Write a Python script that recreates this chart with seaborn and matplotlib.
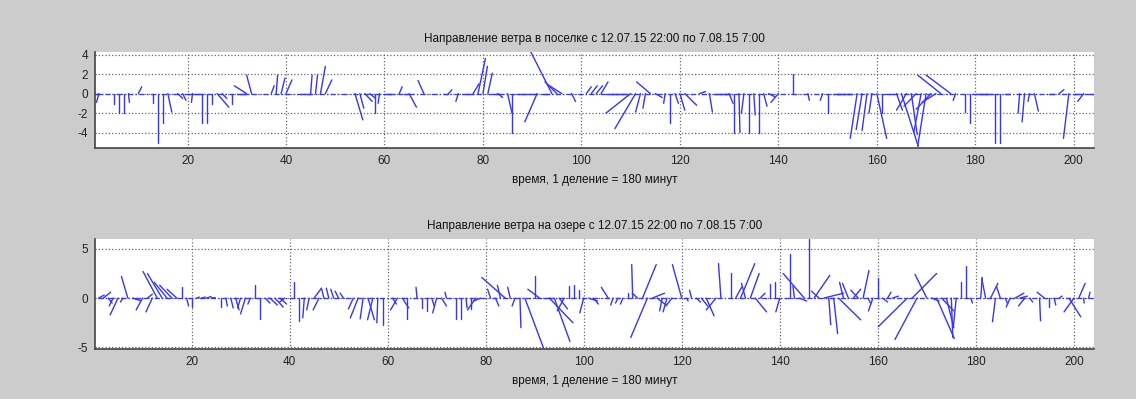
import matplotlib
import matplotlib.pyplot as plt
import numpy as np
import pandas as pd
import seaborn as sns

matplotlib.use("Agg")

N_STEPS = 204
X_TICKS = [20, 40, 60, 80, 100, 120, 140, 160, 180, 200]

# village (upper panel): vector index, east component, north component
VILLAGE_IDX = [1, 2, 5, 6, 7, 8, 10, 13, 14, 15, 16, 18, 19, 20, 21, 22, 23, 24, 25, 26,
               27, 29, 30, 32, 33, 37, 38, 39, 40, 43, 45, 46, 47, 48, 54, 55, 56, 57, 58, 59,
               60, 61, 63, 64, 65, 68, 72, 73, 75, 76, 78, 79, 80, 81, 82, 83, 85, 86, 87, 89,
               91, 92, 94, 95, 96, 98, 101, 102, 103, 104, 105, 106, 107, 108, 110, 111, 112, 113, 114, 115,
               117, 118, 119, 120, 121, 124, 126, 127, 128, 129, 130, 131, 132, 133, 134, 135, 136, 137, 138, 140,
               143, 146, 149, 150, 151, 152, 153, 154, 156, 157, 158, 159, 160, 161, 162, 164, 165, 166, 167, 168,
               169, 170, 171, 172, 173, 175, 176, 178, 179, 180, 181, 182, 184, 185, 186, 189, 190, 191, 192, 195,
               197, 199, 200, 202, 203]
VILLAGE_U = [1.4, -0.5, 0.0, 0.0, 0.0, 0.2, 0.7, 0.0, 0.0, 0.0, 0.8, 1.0, 0.7, 1.8, -0.2, 1.2, 0.0, 0.0, 0.0, 2.4,
             1.0, 0.0, 2.0, -2.5, -1.0, 0.6, 0.3, 0.8, 1.2, 2.0, 0.3, 0.4, 1.0, 1.3, 1.6, 0.8, 1.5, 1.2, 0.0, -0.3,
             1.2, 1.0, 0.6, 1.0, 1.5, -1.2, 1.0, 0.7, -0.5, 2.0, 1.2, 1.5, 0.9, 0.9, 1.6, 1.0, 0.9, 0.0, 1.8, 2.0,
             -2.5, 1.5, -4.3, -2.4, -2.8, 0.8, 1.0, 1.2, 1.3, 1.4, 1.5, 1.5, 1.5, 1.5, -5.0, -4.2, -1.0, -0.5, -2.8, 1.4,
             -0.3, 0.0, 0.7, 1.0, 2.4, 1.2, 0.6, 1.5, 1.5, 1.2, 0.8, 0.0, 0.2, -0.5, 0.0, 0.3, 0.0, 0.7, 1.2, -1.5,
             0.0, 0.3, -0.5, 0.0, 1.5, 1.5, 1.5, 1.0, -1.4, -1.2, -1.0, -0.6, 2.0, 0.0, 1.5, 1.2, 3.4, -2.0, 1.2, -2.5,
             -1.5, -1.7, -3.0, -2.8, -4.7, -5.0, -0.5, 0.0, 0.0, 1.5, 1.5, 1.5, 0.0, 0.0, 1.0, -0.3, -0.5, -0.3, 0.8, 1.0,
             1.0, -1.1, 1.5, -1.2, 1.5]
VILLAGE_V = [0.0, -0.9, -1.1, -2.0, -2.0, -0.9, 0.7, -1.0, -5.1, -3.0, -1.9, -0.5, -0.7, 0.0, -0.9, 0.0, -3.0, -3.0, -1.1, -1.4,
             -0.5, -1.1, 0.0, 0.8, 1.9, 0.8, 1.9, 1.6, 1.4, 0.0, 1.9, 1.9, 2.8, 1.4, -2.7, -1.5, -0.8, -0.5, -2.0, -1.0,
             0.0, 0.0, 0.7, 0.0, -1.4, 1.35, 0.0, 0.4, -0.8, 0.0, 1.0, 3.6, 2.8, 2.1, 0.0, -0.4, -2.0, -4.0, 0.0, 0.0,
             -2.9, 0.0, 4.3, 1.2, 0.9, -0.8, 0.7, 0.8, 0.8, 1.2, 0.0, 0.0, 0.0, 0.0, -2.0, -3.6, -1.9, -1.5, 1.2, -0.4,
             -1.0, -3.0, -1.0, -1.7, -1.2, 0.2, -1.9, 0.0, 0.0, 0.0, -1.0, -4.0, -4.0, -2.0, -4.0, -2.2, -4.0, -1.3, -0.3, -0.9,
             2.0, -0.7, -0.7, -2.0, 0.0, 0.0, 0.0, 0.0, -4.6, -3.7, -3.8, -2.0, -4.6, -2.0, 0.0, -1.7, -5.4, -1.7, -4.2, -1.3,
             -4.0, -5.4, -1.6, -0.9, 1.9, 1.9, -0.7, -1.9, -3.0, 0.0, 0.0, 0.0, -5.1, -5.1, 0.0, -2.0, -2.9, -0.8, -1.8, 0.0,
             0.4, -4.6, 0.0, -0.8, 0.0]

# lake (lower panel)
LAKE_IDX = [1, 2, 3, 4, 5, 6, 7, 8, 9, 10, 11, 12, 13, 14, 15, 16, 17, 18, 19, 20,
            21, 22, 23, 24, 26, 27, 28, 29, 30, 31, 32, 33, 34, 35, 36, 37, 38, 39, 41, 42,
            43, 44, 45, 46, 47, 48, 49, 50, 51, 53, 54, 55, 56, 57, 58, 59, 61, 62, 63, 64,
            66, 67, 68, 69, 70, 71, 72, 74, 75, 76, 77, 78, 79, 81, 82, 83, 84, 85, 86, 87,
            88, 90, 91, 92, 93, 94, 95, 96, 97, 98, 99, 100, 101, 102, 105, 106, 107, 108, 109, 110,
            111, 112, 113, 114, 115, 116, 117, 118, 120, 121, 122, 123, 124, 125, 127, 128, 130, 131, 132, 133,
            134, 135, 136, 138, 139, 140, 142, 143, 144, 145, 146, 147, 148, 149, 150, 151, 152, 153, 154, 155,
            156, 157, 158, 159, 160, 161, 162, 163, 166, 167, 168, 170, 171, 172, 173, 174, 175, 176, 177, 178,
            179, 181, 182, 183, 184, 185, 186, 187, 188, 189, 190, 191, 193, 194, 195, 196, 197, 199, 200, 201,
            202, 203]
LAKE_U = [1.2, 1.5, 0.8, -0.8, -1.6, -0.5, -1.3, 1.2, 0.6, -1.3, 1.0, -1.3, -2.9, -3.0, -2.6, -2.5, -2.0, 0.0, 0.4, 0.0,
          0.6, 0.8, 1.0, 0.8, 0.0, 0.3, 0.5, 0.7, -0.6, -1.0, -0.5, 0.0, 0.0, 1.0, 1.5, 1.7, 1.4, -1.0, 0.0, 0.0,
          -0.3, -0.5, 1.5, -1.2, -0.5, -0.5, -0.6, -0.7, -0.7, -1.0, -1.6, -0.6, 1.3, -1.1, -0.2, 0.0, 0.8, -1.4, 1.3, 0.0,
          -0.2, 0.0, 0.0, 0.5, -0.8, 1.0, -0.3, 0.0, 0.0, 0.2, 0.0, -1.7, -1.5, -0.6, 0.7, -0.6, -4.8, -0.5, -0.6, 0.2,
          3.9, 0.0, -2.4, 1.5, 4.8, 3.2, 1.7, -1.4, 0.0, 0.0, 0.0, -0.8, 1.8, 1.0, -1.4, -0.5, -0.5, -0.5, 0.0, -0.2,
          -1.1, 2.8, -3.4, 2.5, 1.8, -0.5, -0.8, -1.2, -1.9, 0.3, -0.4, 0.8, 1.3, 1.6, -2.0, -0.5, 0.0, 1.2, 2.9, -0.8,
          1.8, 2.3, 1.0, 0.0, 0.0, -0.8, 0.0, -0.3, 1.5, -4.3, 0.0, 3.2, -1.5, 4.0, 0.4, 0.8, 4.5, -0.8, -1.2, 1.5,
          -1.5, 1.2, 0.5, -0.9, 0.0, 1.0, 0.7, 1.2, -5.9, 5.0, -4.5, -2.4, 1.5, 3.6, 2.5, 1.5, 0.3, -0.6, 0.0, 0.0,
          0.3, 0.3, -0.8, 1.5, -0.6, -0.8, 0.5, -0.8, 1.8, 1.5, -1.3, 0.6, 0.2, -1.5, 0.0, 0.3, 0.6, 2.4, -2.0, 1.3,
          0.1, 0.3]
LAKE_V = [0.3, 0.6, -0.5, -0.8, -1.7, -0.4, 2.2, -0.2, -0.3, -1.2, 0.4, -1.4, 2.7, 2.5, 1.6, 1.3, 0.9, 1.1, -0.8, -0.9,
          0.1, 0.1, 0.15, 0.05, -0.9, -0.8, -1.0, -1.2, -1.0, -1.6, -0.6, 1.3, -2.1, -0.5, -0.7, -0.9, -0.6, -0.4, 1.6, -2.3,
          -2.0, -1.2, 1.0, -1.2, 1.0, 1.0, 0.9, 0.7, 0.5, -1.1, -2.0, -2.1, -2.2, -2.2, -2.5, -2.7, -0.6, -1.2, -1.0, -2.1,
          1.1, -1.0, -1.3, -0.8, -1.5, -0.8, 0.6, -2.1, -2.1, -1.0, -1.1, -1.2, -0.3, 0.9, -0.8, 1.3, 2.1, 1.1, -0.8, -3.0,
          -5.2, 2.2, 0.9, 0.0, -2.5, -4.4, -1.1, -1.3, 1.2, 1.3, 0.8, -1.5, -0.3, -0.6, 1.1, -0.7, -0.5, -0.6, 0.5, 3.4,
          0.5, 3.4, -4.0, 0.5, -0.7, -1.3, -1.4, -0.8, 3.4, -0.3, 0.8, -0.4, -0.8, -1.8, -1.2, 3.5, 2.5, 1.1, 3.5, 1.5,
          2.5, -1.4, 0.5, 1.4, 1.6, -1.4, 4.5, 1.2, -0.3, 2.5, 6.0, 2.3, 0.7, 0.5, -2.7, -3.6, -2.2, 1.6, 1.5, 0.9,
          0.8, 2.8, -0.5, -1.3, 2.0, -0.4, 0.6, 0.2, -2.9, 2.5, -4.2, 2.4, -0.3, -4.1, -1.3, -3.0, -4.0, -3.0, 1.6, 3.3,
          -0.5, 2.1, 2.0, 1.5, -2.4, 1.2, -0.6, -0.9, 0.5, 0.2, -0.8, -0.4, -2.3, 0.6, -0.9, -0.7, 0.2, -1.9, -1.4, 1.5,
          -0.5, 0.6]

TITLES = [
    "Направление ветра в поселке с 12.07.15 22:00 по 7.08.15 7:00",
    "Направление ветра на озере с 12.07.15 22:00 по 7.08.15 7:00",
]
XLABEL = "время, 1 деление = 180 минут"

LINE_BLUE = "#3535ff"
FIG_GRAY = "#cccccc"


def feather_frame(idx, u, v):
    # each vector starts on the zero line at its index and ends at (i+u, v)
    rows = []
    for i, du, dv in zip(idx, u, v):
        rows.append({"vec": i, "x": float(i), "y": 0.0})
        rows.append({"vec": i, "x": i + du, "y": dv})
    return pd.DataFrame(rows)


def draw_feather(ax, df, title, xlim, ylim, yticks):
    ax.set_facecolor("white")
    ax.plot([1, N_STEPS], [0, 0], linestyle=(0, (4, 2, 1, 2)), color=LINE_BLUE, lw=0.9, zorder=1)
    sns.lineplot(
        data=df, x="x", y="y", units="vec", estimator=None, sort=False,
        color=LINE_BLUE, lw=1.0, ax=ax, legend=False, zorder=3,
    )
    ax.set_xlim(*xlim)
    ax.set_ylim(*ylim)
    ax.set_xticks(X_TICKS)
    ax.set_yticks(yticks)
    ax.grid(True, linestyle=":", color="#666666", lw=0.9)
    ax.set_axisbelow(True)
    for side in ("top", "right"):
        ax.spines[side].set_visible(False)
    for side in ("left", "bottom"):
        ax.spines[side].set_color("#444444")
        ax.spines[side].set_linewidth(1.2)
    ax.tick_params(direction="in", length=5, width=1.2, color="#444444",
                   labelsize=8.5, labelcolor="#222222", pad=5)
    ax.set_title(title, fontsize=8.5, color="#111111", pad=7)
    ax.set_xlabel(XLABEL, fontsize=8.5, color="#111111", labelpad=5)
    ax.set_ylabel("")


def main():
    sns.set_style("white")
    plt.rcParams["font.family"] = ["Liberation Sans", "DejaVu Sans"]
    plt.rcParams["axes.unicode_minus"] = False

    fig = plt.figure(figsize=(11.36, 3.99), dpi=100, facecolor=FIG_GRAY)
    ax1 = fig.add_axes([0.0836, 0.630, 0.8794, 0.2404])
    ax2 = fig.add_axes([0.0836, 0.1245, 0.8794, 0.2765])

    draw_feather(ax1, feather_frame(VILLAGE_IDX, VILLAGE_U, VILLAGE_V), TITLES[0],
                 (1.2, 204.1), (-5.55, 4.3), [-4, -2, 0, 2, 4])
    draw_feather(ax2, feather_frame(LAKE_IDX, LAKE_U, LAKE_V), TITLES[1],
                 (0.3, 204.1), (-5.2, 6.0), [-5, 0, 5])

    fig.savefig("out.png", dpi=100, facecolor=FIG_GRAY)
    plt.close(fig)


if __name__ == "__main__":
    main()
